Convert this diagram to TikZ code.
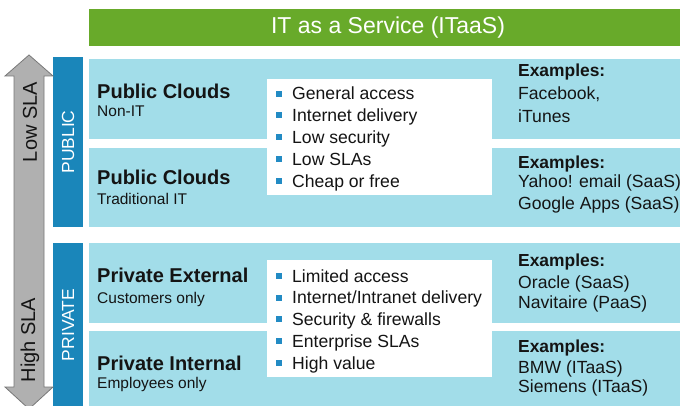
\documentclass[tikz,border=0pt]{standalone}
\usepackage{fontspec}
\setmainfont{Liberation Sans}
\definecolor{cellblue}{RGB}{162,221,233}
\definecolor{barblue}{RGB}{26,134,186}
\definecolor{titlegreen}{RGB}{104,170,42}
\definecolor{bulletblue}{RGB}{34,139,196}
\definecolor{arrowgray}{RGB}{176,176,176}
\definecolor{arrowedge}{RGB}{120,120,120}
\definecolor{ink}{RGB}{20,20,20}
\newcommand\fsz[1]{\fontsize{#1}{#1}\selectfont}
\newcommand\sqbullet{\raisebox{3.3pt}{\textcolor{bulletblue}{\rule{6pt}{6pt}}}\hspace{10pt}}
\begin{document}
\begin{tikzpicture}[x=1pt,y=-1pt,
  panel/.style={anchor=north west, inner sep=0pt, outer sep=0pt, draw=none},
  band/.style={panel, fill=cellblue, minimum width=591pt, minimum height=80pt},
  sidebar/.style={panel, fill=barblue, minimum width=30pt},
  listbox/.style={panel, fill=white, minimum width=225pt, minimum height=116pt},
  heading/.style={anchor=base west, inner sep=0pt, text=ink, font=\fsz{20}\bfseries},
  subhead/.style={anchor=base west, inner sep=0pt, text=ink, font=\fsz{15.5}},
  item/.style={anchor=base west, inner sep=0pt, text=ink, font=\fsz{17.6}},
  example/.style={anchor=base west, inner sep=0pt, text=ink, font=\fsz{17.6}},
  exhead/.style={example, font=\fsz{17.4}\bfseries},
  sidelabel/.style={rotate=90, inner sep=0pt, text=white, font=\fsz{17.5}},
  slalabel/.style={rotate=90, inner sep=0pt, text=ink, font=\fsz{20}},
]
\useasboundingbox (0,0) rectangle (680,406);
\fill[white] (0,0) rectangle (680,406);

% title bar
\node[panel, fill=titlegreen, minimum width=591pt, minimum height=37pt] (title) at (89,9) {};
\node[text=white, font=\fsz{23}, inner sep=0pt] (titletext) at (388,27.5) {IT as a Service (ITaaS)};

% rows
\node[band] (pub1) at (89,59) {};
\node[band, minimum height=79pt] (pub2) at (89,148) {};
\node[band] (priv1) at (89,243) {};
\node[band, minimum height=80pt] (priv2) at (89,331) {};

% side bars
\node[sidebar, minimum height=170pt] (pubbar) at (53,57) {};
\node[sidebar, minimum height=170pt] (privbar) at (53,243) {};
\node[sidelabel] (publabel) at (pubbar.center |- 0,142) {PUBLIC};
\node[sidelabel] (privlabel) at (privbar.center |- 0,325) {PRIVATE};

% SLA arrow
\draw[fill=arrowgray, draw=arrowedge, line width=0.8pt]
  (29,55) -- (53,76) -- (44,76) -- (44,387) -- (53,387) -- (29,409)
  -- (5,387) -- (14,387) -- (14,76) -- (5,76) -- cycle;
\node[slalabel] (lowsla) at (30,122) {Low SLA};
\node[slalabel] (highsla) at (30,340) {High SLA};

% characteristic boxes
\node[listbox] (publist) at (267,79) {};
\node[listbox, minimum height=117pt] (privlist) at (267,260) {};

% row headings
\node[heading] (h1) at (97,99) {Public Clouds};
\node[subhead] (s1) at (97,117) {Non-IT};
\node[heading] (h2) at (97,185) {Public Clouds};
\node[subhead] (s2) at (97,205) {Traditional IT};
\node[heading] (h3) at (97,282) {Private External};
\node[subhead] (s3) at (97,303) {Customers only};
\node[heading] (h4) at (97,370) {Private Internal};
\node[subhead] (s4) at (97,388) {Employees only};

% bullet lists
\foreach \t [count=\i from 0] in {General access, Internet delivery, Low security, Low SLAs, Cheap or free}
  \node[item] (pubitem\i) at (276,100+21.8*\i) {\sqbullet\t};
\foreach \t [count=\i from 0] in {Limited access, Internet/Intranet delivery, Security \& firewalls, Enterprise SLAs, High value}
  \node[item] (privitem\i) at (276,282+21.8*\i) {\sqbullet\t};

% examples
\node[exhead] (e1) at (518,77) {Examples:};
\node[example] (e1a) at (518,100) {Facebook,};
\node[example] (e1b) at (518,123) {iTunes};
\node[exhead] (e2) at (518,169) {Examples:};
\node[example] (e2a) at (518,188) {Yahoo! email (SaaS)};
\node[example] (e2b) at (518,210) {Google Apps (SaaS)};
\node[exhead] (e3) at (518,266) {Examples:};
\node[example] (e3a) at (518,288) {Oracle (SaaS)};
\node[example] (e3b) at (518,308) {Navitaire (PaaS)};
\node[exhead] (e4) at (518,352) {Examples:};
\node[example] (e4a) at (518,373) {BMW (ITaaS)};
\node[example] (e4b) at (518,392) {Siemens (ITaaS)};
\end{tikzpicture}
\end{document}
